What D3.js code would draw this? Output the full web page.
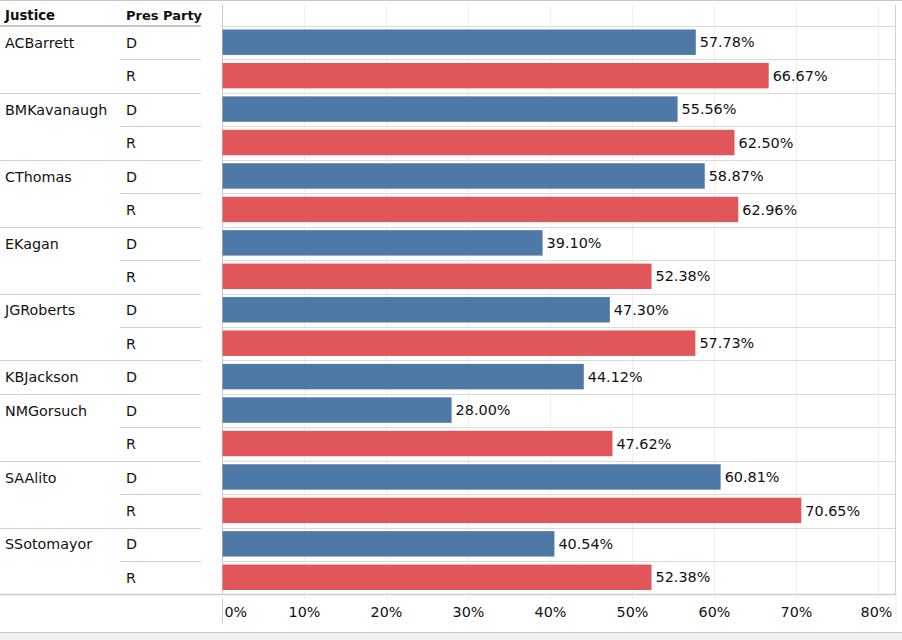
<!DOCTYPE html>
<html>
<head>
<meta charset="utf-8">
<script src="https://cdn.jsdelivr.net/npm/d3@7.9.0/dist/d3.min.js"></script>
<style>
  body { margin: 0; background: #fff; }
  svg { display: block; font-family: "DejaVu Sans", sans-serif; }
</style>
</head>
<body>
<div id="chart"></div>
<script>
// values
const justices = ['ACBarrett', 'BMKavanaugh', 'CThomas', 'EKagan', 'JGRoberts',
  'KBJackson', 'NMGorsuch', 'SAAlito', 'SSotomayor'];
const demShare = [0.5778, 0.5556, 0.5887, 0.3910, 0.4730, 0.4412, 0.2800, 0.6081, 0.4054];
const repShare = [0.6667, 0.6250, 0.6296, 0.5238, 0.5773, null, 0.4762, 0.7065, 0.5238];
const parties = ['D', 'R'];
const xTicks = [0, 0.1, 0.2, 0.3, 0.4, 0.5, 0.6, 0.7, 0.8];

const colors = { D: '#4e79a7', R: '#e15759' };
const ink = '#111';

// one row per justice/party pair that has a value
const rows = [];
justices.forEach((j, i) => {
  const vals = [demShare[i], repShare[i]];
  parties.forEach((p, k) => {
    if (vals[k] != null) rows.push({ justice: j, party: p, value: vals[k], first: k === 0 });
  });
});

const width = 902, height = 640;
const rowTop = 26, rowBottom = 594.5;
const plotLeft = 222, plotRight = 896;

const svg = d3.select('#chart').append('svg')
  .attr('width', width).attr('height', height);

const y = d3.scaleBand()
  .domain(rows.map((d, i) => i))
  .range([rowTop, rowBottom]);

const x = d3.scaleLinear().domain([0, 0.8]).range([plotLeft, 878]);

// frame bits
svg.append('line').attr('x1', 0).attr('x2', width).attr('y1', 0.5).attr('y2', 0.5)
  .attr('stroke', '#c8c8c8');
svg.append('rect').attr('x', 0).attr('y', 633).attr('width', width).attr('height', 7)
  .attr('fill', '#f2f2f2');
svg.append('line').attr('x1', 0).attr('x2', width).attr('y1', 632.5).attr('y2', 632.5)
  .attr('stroke', '#c8c8c8');

// vertical gridlines
svg.append('g')
  .selectAll('line')
  .data(xTicks.slice(1))
  .join('line')
  .attr('x1', d => x(d) + 0.5).attr('x2', d => x(d) + 0.5)
  .attr('y1', 5).attr('y2', rowBottom)
  .attr('stroke', '#efefef');

// row separators in chart area
svg.append('g')
  .selectAll('line')
  .data(rows.map((d, i) => i))
  .join('line')
  .attr('x1', plotLeft).attr('x2', plotRight)
  .attr('y1', d => Math.round(y(d)) + 0.5).attr('y2', d => Math.round(y(d)) + 0.5)
  .attr('stroke', '#dadada');

// left pane separators
svg.append('g')
  .selectAll('line')
  .data(rows.map((d, i) => i).filter(i => i > 0))
  .join('line')
  .attr('x1', i => rows[i].first ? 0 : 120).attr('x2', 201)
  .attr('y1', i => Math.round(y(i)) + 0.5).attr('y2', i => Math.round(y(i)) + 0.5)
  .attr('stroke', '#d2d2d2');

// header divider
svg.append('line').attr('x1', 0).attr('x2', 201).attr('y1', rowTop).attr('y2', rowTop)
  .attr('stroke', '#c8c8c8').attr('stroke-width', 2);

// bottom divider
svg.append('line').attr('x1', 0).attr('x2', plotRight).attr('y1', rowBottom).attr('y2', rowBottom)
  .attr('stroke', '#cccccc').attr('stroke-width', 1.5);

// zero line and right border
svg.append('line').attr('x1', plotLeft + 0.5).attr('x2', plotLeft + 0.5).attr('y1', 5).attr('y2', 623)
  .attr('stroke', '#c8c8c8');
svg.append('line').attr('x1', plotRight - 0.5).attr('x2', plotRight - 0.5).attr('y1', 5).attr('y2', rowBottom)
  .attr('stroke', '#d2d2d2');
svg.append('line').attr('x1', plotRight).attr('x2', plotRight).attr('y1', rowBottom).attr('y2', 623)
  .attr('stroke', '#ececec');

// headers
svg.append('text').attr('x', 5).attr('y', 20).text('Justice')
  .attr('font-weight', 'bold').attr('font-size', 13.3).attr('fill', ink);
svg.append('text').attr('x', 126).attr('y', 20).text('Pres Party')
  .attr('font-weight', 'bold').attr('font-size', 13).attr('fill', ink);

// row labels
const mid = i => y(i) + y.bandwidth() / 2;
svg.append('g')
  .selectAll('text')
  .data(rows.filter(d => d.first))
  .join('text')
  .attr('x', 5)
  .attr('y', d => mid(rows.indexOf(d)))
  .attr('dy', '0.36em')
  .attr('font-size', 14.3)
  .attr('fill', ink)
  .text(d => d.justice);

svg.append('g')
  .selectAll('text')
  .data(rows)
  .join('text')
  .attr('x', 126)
  .attr('y', (d, i) => mid(i))
  .attr('dy', '0.36em')
  .attr('font-size', 14.3)
  .attr('fill', ink)
  .text(d => d.party);

// bars
svg.append('g')
  .selectAll('rect')
  .data(rows)
  .join('rect')
  .attr('x', x(0) + 0.5)
  .attr('y', (d, i) => y(i) + 3.5)
  .attr('width', d => x(d.value) - x(0) - 0.5)
  .attr('height', y.bandwidth() - 8)
  .attr('fill', d => colors[d.party]);

// value labels
const pct = d3.format('.2%');
svg.append('g')
  .selectAll('text')
  .data(rows)
  .join('text')
  .attr('x', d => x(d.value) + 4)
  .attr('y', (d, i) => mid(i) - 0.5)
  .attr('dy', '0.36em')
  .attr('font-size', 14.4)
  .attr('fill', ink)
  .text(d => pct(d.value));

// x axis
const xAxis = d3.axisBottom(x)
  .tickValues(xTicks)
  .tickFormat(d3.format('.0%'))
  .tickSize(5)
  .tickPadding(6);

const ax = svg.append('g')
  .attr('transform', `translate(0, ${rowBottom})`)
  .call(xAxis);
ax.select('.domain').remove();
ax.selectAll('.tick line').attr('stroke', '#eeeeee');
ax.selectAll('.tick text')
  .attr('font-family', '"DejaVu Sans", sans-serif')
  .attr('font-size', 14.3)
  .attr('fill', ink)
  .attr('y', 22.5)
  .attr('dy', 0);
ax.selectAll('.tick').filter(d => d === 0).select('text')
  .attr('text-anchor', 'start').attr('x', 2);
ax.selectAll('.tick').filter(d => d === 0.8).select('text')
  .attr('x', -2);
</script>
</body>
</html>
